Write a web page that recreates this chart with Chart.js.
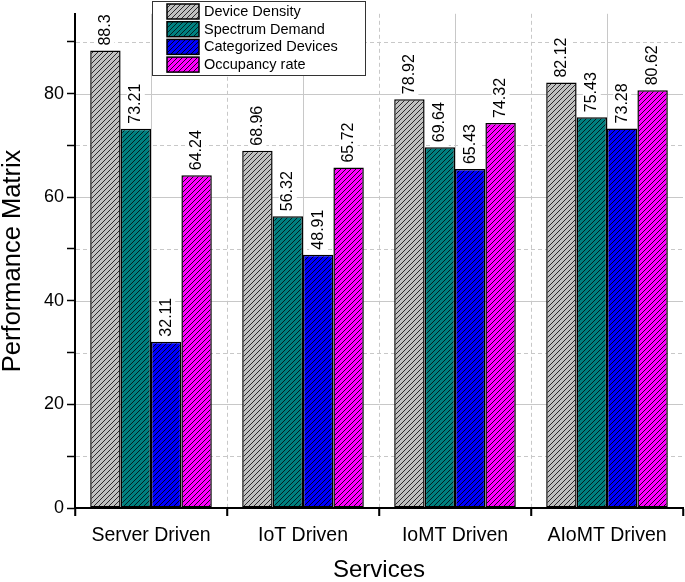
<!DOCTYPE html>
<html>
<head>
<meta charset="utf-8">
<script src="https://cdn.jsdelivr.net/npm/chart.js@4.4.0/dist/chart.umd.min.js"></script>
<style>
html, body { margin: 0; padding: 0; background: #fff; }
#wrap { width: 685px; height: 582px; }
</style>
</head>
<body>
<div id="wrap"><canvas id="perfChart" width="685" height="582"></canvas></div>
<script>
var categories = ['Server Driven', 'IoT Driven', 'IoMT Driven', 'AIoMT Driven'];
var seriesNames = ['Device Density', 'Spectrum Demand', 'Categorized Devices', 'Occupancy rate'];
var deviceDensity = [88.3, 68.96, 78.92, 82.12];
var spectrumDemand = [73.21, 56.32, 69.64, 75.43];
var categorizedDevices = [32.11, 48.91, 65.43, 73.28];
var occupancyRate = [64.24, 65.72, 74.32, 80.62];
var yTicks = [0, 10, 20, 30, 40, 50, 60, 70, 80, 90];

var FONT = 'Liberation Sans, Arial, sans-serif';
var canvas = document.getElementById('perfChart');
var ctx = canvas.getContext('2d');

// diagonal hatch pattern on a coloured background
function hatch(bg, line) {
    var s = 5;
    var c = document.createElement('canvas');
    c.width = s; c.height = s;
    var g = c.getContext('2d');
    g.fillStyle = bg;
    g.fillRect(0, 0, s, s);
    g.strokeStyle = line;
    g.lineWidth = 1;
    g.beginPath();
    g.moveTo(0, s); g.lineTo(s, 0);
    g.moveTo(-1, 1); g.lineTo(1, -1);
    g.moveTo(s - 1, s + 1); g.lineTo(s + 1, s - 1);
    g.stroke();
    return ctx.createPattern(c, 'repeat');
}

var fills = [
    hatch('#c0c0c0', '#2a2a2a'),
    hatch('#008080', '#002020'),
    hatch('#0000ff', '#000020'),
    hatch('#ff00ff', '#200020')
];
var values = [deviceDensity, spectrumDemand, categorizedDevices, occupancyRate];

var datasets = values.map(function (v, i) {
    return {
        label: seriesNames[i],
        data: v,
        backgroundColor: fills[i],
        borderColor: '#000',
        borderWidth: 1.5,
        borderSkipped: false,
        categoryPercentage: 0.8,
        barPercentage: 1.0
    };
});

var extras = {
    id: 'extras',
    beforeDatasetsDraw: function (chart) {
        var c = chart.ctx, a = chart.chartArea;
        var x = chart.scales.x, y = chart.scales.y;
        c.save();
        c.lineWidth = 1;
        c.strokeStyle = '#c8c8c8';
        // horizontal grid
        yTicks.forEach(function (v) {
            if (v === 0) return;
            var py = Math.round(y.getPixelForValue(v)) + 0.5;
            c.setLineDash(v % 20 === 0 ? [] : [4, 3]);
            c.beginPath();
            c.moveTo(a.left + 1, py);
            c.lineTo(a.right, py);
            c.stroke();
        });
        // vertical grid: solid at centres, dashed at boundaries
        for (var i = 0; i < categories.length; i++) {
            var px = Math.round(x.getPixelForValue(i)) + 0.5;
            c.setLineDash([]);
            c.beginPath(); c.moveTo(px, a.top); c.lineTo(px, a.bottom - 1); c.stroke();
            if (i > 0) {
                var bx = Math.round(x.getPixelForValue(i - 0.5)) + 0.5;
                c.setLineDash([4, 3]);
                c.beginPath(); c.moveTo(bx, a.top); c.lineTo(bx, a.bottom - 1); c.stroke();
            }
        }
        c.setLineDash([]);
        // boundary ticks on x axis
        c.strokeStyle = '#000';
        c.lineWidth = 1.5;
        for (var j = 0; j <= categories.length; j++) {
            var tx = x.getPixelForValue(j - 0.5);
            c.beginPath(); c.moveTo(tx, a.bottom); c.lineTo(tx, a.bottom + 8); c.stroke();
        }
        c.restore();
    },
    afterDatasetsDraw: function (chart) {
        var c = chart.ctx;
        c.save();
        c.font = '16px ' + FONT;
        c.textAlign = 'left';
        c.textBaseline = 'middle';
        chart.data.datasets.forEach(function (ds, di) {
            var meta = chart.getDatasetMeta(di);
            meta.data.forEach(function (bar, k) {
                var txt = String(ds.data[k]);
                var w = c.measureText(txt).width;
                c.save();
                c.translate(bar.x, bar.y - 1);
                c.rotate(-Math.PI / 2);
                c.fillStyle = '#fff';
                c.fillRect(0, -9, w + 5, 18);
                c.fillStyle = '#000';
                c.fillText(txt, 4, 0);
                c.restore();
            });
        });

        // legend box
        var lx = 152, ly = 1, lw = 213, lh = 74;
        c.fillStyle = '#fff';
        c.fillRect(lx, ly, lw, lh);
        c.strokeStyle = '#333';
        c.lineWidth = 1;
        c.strokeRect(lx + 0.5, ly + 0.5, lw, lh);
        seriesNames.forEach(function (name, i) {
            var sy = 4 + i * 17.7;
            c.fillStyle = fills[i];
            c.fillRect(167, sy, 32, 15);
            c.strokeStyle = '#000';
            c.lineWidth = 1.5;
            c.strokeRect(167, sy, 32, 15);
            c.fillStyle = '#000';
            c.font = '14.5px ' + FONT;
            c.textBaseline = 'middle';
            c.fillText(name, 204, sy + 8);
        });
        c.restore();
    }
};

var perfChart = new Chart(ctx, {
    type: 'bar',
    data: { labels: categories, datasets: datasets },
    options: {
        responsive: false,
        animation: false,
        layout: { padding: { top: 12, right: 2, left: 0, bottom: 0 } },
        plugins: { legend: { display: false }, tooltip: { enabled: false } },
        scales: {
            x: {
                grid: { display: true, drawOnChartArea: false, drawTicks: true, tickLength: 8, tickColor: '#000', tickWidth: 1.5 },
                border: { display: true, color: '#000', width: 2 },
                ticks: { color: '#000', font: { family: FONT, size: 19.5 }, padding: 8, maxRotation: 0 },
                title: { display: true, text: 'Services', color: '#000', font: { family: FONT, size: 24, lineHeight: 1.0 }, padding: { top: 0, bottom: 0 } },
                afterFit: function (s) { s.height = 74; }
            },
            y: {
                min: 0,
                max: 95.4,
                afterBuildTicks: function (s) { s.ticks = yTicks.map(function (v) { return { value: v }; }); },
                grid: { display: true, drawOnChartArea: false, drawTicks: true, tickLength: 8, tickColor: '#000', tickWidth: 1.5 },
                border: { display: true, color: '#000', width: 2 },
                ticks: {
                    color: '#000', font: { family: FONT, size: 18 }, padding: 3,
                    callback: function (v) { return v % 20 === 0 ? v : ''; }
                },
                title: { display: true, text: 'Performance Matrix', color: '#000', font: { family: FONT, size: 25.5, lineHeight: 1.0 }, padding: { top: 0, bottom: 0 } },
                afterFit: function (s) { s.width = 75; }
            }
        }
    },
    plugins: [extras]
});
</script>
</body>
</html>
